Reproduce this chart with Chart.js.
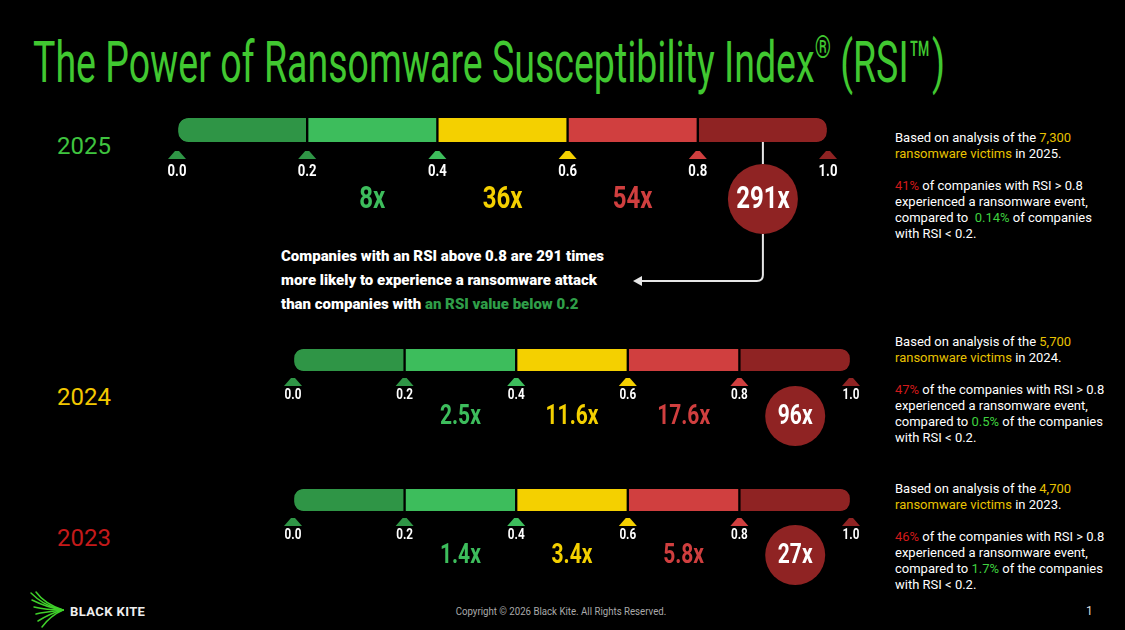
<!DOCTYPE html>
<html lang="en">
<head>
<meta charset="UTF-8">
<title>The Power of Ransomware Susceptibility Index</title>
<script src="https://cdn.jsdelivr.net/npm/chart.js"></script>
<style>
  body { margin: 0; background: #000; width: 1125px; height: 630px; overflow: hidden; position: relative; font-family: Roboto, "Noto Sans", sans-serif; color: #fff; }
  .abs { position: absolute; }
  #title { left: 33px; top: 18px; font-size: 58px; line-height: 58px; color: #41c831; white-space: nowrap; transform-origin: left top; }
  #title .reg { font-size: 0.55em; vertical-align: 0.75em; }
  .year { left: 57px; font-size: 24px; line-height: 24px; }
  .note { left: 895px; font-size: 13px; line-height: 16px; white-space: nowrap; }
  #caption { left: 281px; top: 244px; font-size: 15px; line-height: 24px; font-weight: 900; white-space: nowrap; }
  canvas { position: absolute; }
  #brand { left: 70px; top: 604px; font-size: 13px; font-weight: 700; letter-spacing: 0.4px; color: #eee; }
  #copy { left: 561px; top: 605px; font-size: 10.5px; color: #aaa; white-space: nowrap; transform: translateX(-50%) scaleX(0.92); }
  #page { left: 1086px; top: 604px; font-size: 12px; color: #ddd; }
</style>
</head>
<body>
<div id="title" class="abs">The Power of Ransomware Susceptibility Index<span class="reg">®</span> (RSI™)</div>
<div id="caption" class="abs"></div>
<div id="notes"></div>
<svg class="abs" style="left:28px;top:590px" width="40" height="40" viewBox="0 0 40 40">
  <g stroke="#3fcf2a" stroke-width="1.5" fill="none" stroke-linecap="round">
    <path d="M3 3 C10 10, 18 16, 35 20"/>
    <path d="M8 2 C13 9, 20 15, 35 20"/>
    <path d="M4 10 C12 14, 22 18, 35 20"/>
    <path d="M6 17 C14 19, 25 20, 35 20"/>
    <path d="M8 24 C16 22, 26 21, 35 20"/>
    <path d="M10 31 C18 26, 27 22, 35 20"/>
    <path d="M14 37 C20 29, 28 23, 35 20"/>
  </g>
</svg>
<div id="brand" class="abs">BLACK KITE</div>
<div id="copy" class="abs">Copyright © 2026 Black Kite. All Rights Reserved.</div>
<div id="page" class="abs">1</div>

<canvas id="rsi2025" width="711" height="190" style="left:147px;top:110px"></canvas>
<canvas id="rsi2024" width="618" height="120" style="left:263px;top:341px"></canvas>
<canvas id="rsi2023" width="618" height="120" style="left:263px;top:481px"></canvas>

<script>
  // RSI scale boundaries (segments 0-0.2, 0.2-0.4, ...)
  const rsiBounds = [0.0, 0.2, 0.4, 0.6, 0.8, 1.0];
  const years = [2025, 2024, 2023];

  // likelihood multipliers per segment (first segment is the baseline)
  const mult2025 = [null, 8, 36, 54, 291];
  const mult2024 = [null, 2.5, 11.6, 17.6, 96];
  const mult2023 = [null, 1.4, 3.4, 5.8, 27];

  // side notes
  const victims = [7300, 5700, 4700];
  const highPct = [41, 47, 46];
  const lowPct = [0.14, 0.5, 1.7];

  const segColors = ['#2f9546', '#3dbd5c', '#f4d000', '#d03f3f', '#8f2323'];
  const markerColors = ['#2f9546', '#2f9546', '#3dbd5c', '#f4d000', '#d03f3f', '#8f2323'];
  const yearColors = ['#3fc43f', '#f2c800', '#c41a1a'];

  // title fitted to the reference width
  const title = document.getElementById('title');
  title.style.transform = 'scaleX(' + (912 / title.offsetWidth) + ')';

  // year labels and notes
  const yearTops = [134, 385, 526];
  const noteTops = [130, 334, 481];
  const notes = document.getElementById('notes');
  years.forEach((y, i) => {
    const yl = document.createElement('div');
    yl.className = 'abs year';
    yl.style.top = yearTops[i] + 'px';
    yl.style.color = yearColors[i];
    yl.textContent = y;
    notes.appendChild(yl);

    const the = i === 0 ? '' : 'the ';
    const n = document.createElement('div');
    n.className = 'abs note';
    n.style.top = noteTops[i] + 'px';
    n.innerHTML = 'Based on analysis of the <span style="color:#e8c200">' + victims[i].toLocaleString('en-US') + '</span><br>' +
      '<span style="color:#e8c200">ransomware victims</span> in ' + y + '.<br><br>' +
      '<span style="color:#d11a1a">' + highPct[i] + '%</span> of ' + the + 'companies with RSI &gt; 0.8<br>' +
      'experienced a ransomware event,<br>' +
      'compared to ' + (i === 0 ? '&nbsp;' : '') + '<span style="color:#3fd13f">' + lowPct[i] + '%</span> of ' + the + 'companies<br>' +
      'with RSI &lt; 0.2.';
    notes.appendChild(n);
  });

  document.getElementById('caption').innerHTML =
    'Companies with an RSI above 0.8 are ' + mult2025[4] + ' times<br>' +
    'more likely to experience a ransomware attack<br>' +
    'than companies with <span style="color:#2f9e48">an RSI value below 0.2</span>';

  function drawText(ctx, str, x, y, font, color, sx) {
    ctx.save();
    ctx.translate(x, y);
    ctx.scale(sx, 1);
    ctx.font = font;
    ctx.fillStyle = color;
    ctx.textAlign = 'center';
    ctx.textBaseline = 'middle';
    ctx.fillText(str, 0, 0);
    ctx.restore();
  }

  // triangles, tick labels, multipliers, circle and arrow
  const rsiOverlay = {
    id: 'rsiOverlay',
    afterDatasetsDraw(chart, args, o) {
      const ctx = chart.ctx;
      const x = chart.scales.x;
      const bot = chart.chartArea.bottom;
      ctx.save();
      rsiBounds.forEach((v, i) => {
        const px = x.getPixelForValue(v);
        const t = bot + o.triTop;
        ctx.fillStyle = markerColors[i];
        ctx.beginPath();
        ctx.moveTo(px - 2, t);
        ctx.lineTo(px + 2, t);
        ctx.lineTo(px + 9, t + 8);
        ctx.lineTo(px - 9, t + 8);
        ctx.closePath();
        ctx.fill();
        drawText(ctx, v.toFixed(1), px, bot + o.labelY, o.tickFont, '#fff', o.tickScale);
      });

      const last = o.mults.length - 1;
      const cx = x.getPixelForValue((rsiBounds[last] + rsiBounds[last + 1]) / 2);
      const cy = bot + o.multY;

      if (o.arrow) {
        ctx.strokeStyle = '#e6e6e6';
        ctx.lineWidth = 2;
        ctx.beginPath();
        ctx.moveTo(cx, bot);
        ctx.lineTo(cx, cy - o.circleR);
        ctx.moveTo(cx, cy + o.circleR);
        ctx.lineTo(cx, bot + o.arrow.y - 6);
        ctx.quadraticCurveTo(cx, bot + o.arrow.y, cx - 6, bot + o.arrow.y);
        ctx.lineTo(o.arrow.x + 6, bot + o.arrow.y);
        ctx.stroke();
        ctx.fillStyle = '#e6e6e6';
        ctx.beginPath();
        ctx.moveTo(o.arrow.x, bot + o.arrow.y);
        ctx.lineTo(o.arrow.x + 9, bot + o.arrow.y - 5);
        ctx.lineTo(o.arrow.x + 9, bot + o.arrow.y + 5);
        ctx.closePath();
        ctx.fill();
      }

      o.mults.forEach((m, i) => {
        if (m == null) return;
        const mx = x.getPixelForValue((rsiBounds[i] + rsiBounds[i + 1]) / 2);
        if (i === last) {
          ctx.fillStyle = '#8f2323';
          ctx.beginPath();
          ctx.arc(mx, cy, o.circleR, 0, Math.PI * 2);
          ctx.fill();
          drawText(ctx, m + 'x', mx, cy + 1, o.multFont, '#fff', 0.75);
        } else {
          drawText(ctx, m + 'x', mx, cy + 1, o.multFont, segColors[i], 0.75);
        }
      });
      ctx.restore();
    }
  };

  function makeChart(id, year, mults, pad, overlay) {
    new Chart(document.getElementById(id), {
      type: 'bar',
      data: {
        labels: [String(year)],
        datasets: segColors.map((c, i) => ({
          data: [[rsiBounds[i], rsiBounds[i + 1]]],
          backgroundColor: c,
          borderColor: '#000',
          borderWidth: { left: 1.5, right: 1.5, top: 0, bottom: 0 },
          borderSkipped: false,
          borderRadius: i === 0 ? { topLeft: 12, bottomLeft: 12 } :
            (i === segColors.length - 1 ? { topRight: 12, bottomRight: 12 } : 0),
          grouped: false,
          barPercentage: 1,
          categoryPercentage: 1
        }))
      },
      options: {
        indexAxis: 'y',
        responsive: false,
        animation: false,
        events: [],
        layout: { padding: pad },
        scales: {
          x: { min: 0, max: 1, display: false },
          y: { display: false }
        },
        plugins: {
          legend: { display: false },
          tooltip: { enabled: false },
          rsiOverlay: Object.assign({ mults: mults }, overlay)
        }
      },
      plugins: [rsiOverlay]
    });
  }

  makeChart('rsi2025', years[0], mult2025,
    { left: 30, right: 30, top: 8, bottom: 158 },
    { triTop: 9, labelY: 30, multY: 57, circleR: 35, tickFont: 'bold 16px Roboto', tickScale: 0.82,
      multFont: 'bold 32px Roboto', arrow: { x: 486, y: 139 } });
  makeChart('rsi2024', years[1], mult2024,
    { left: 30, right: 30, top: 8, bottom: 90 },
    { triTop: 7, labelY: 24, multY: 45, circleR: 30, tickFont: 'bold 15px Roboto', tickScale: 0.78,
      multFont: 'bold 28px Roboto' });
  makeChart('rsi2023', years[2], mult2023,
    { left: 30, right: 30, top: 8, bottom: 90 },
    { triTop: 7, labelY: 24, multY: 44, circleR: 30, tickFont: 'bold 15px Roboto', tickScale: 0.78,
      multFont: 'bold 28px Roboto' });
</script>
</body>
</html>
